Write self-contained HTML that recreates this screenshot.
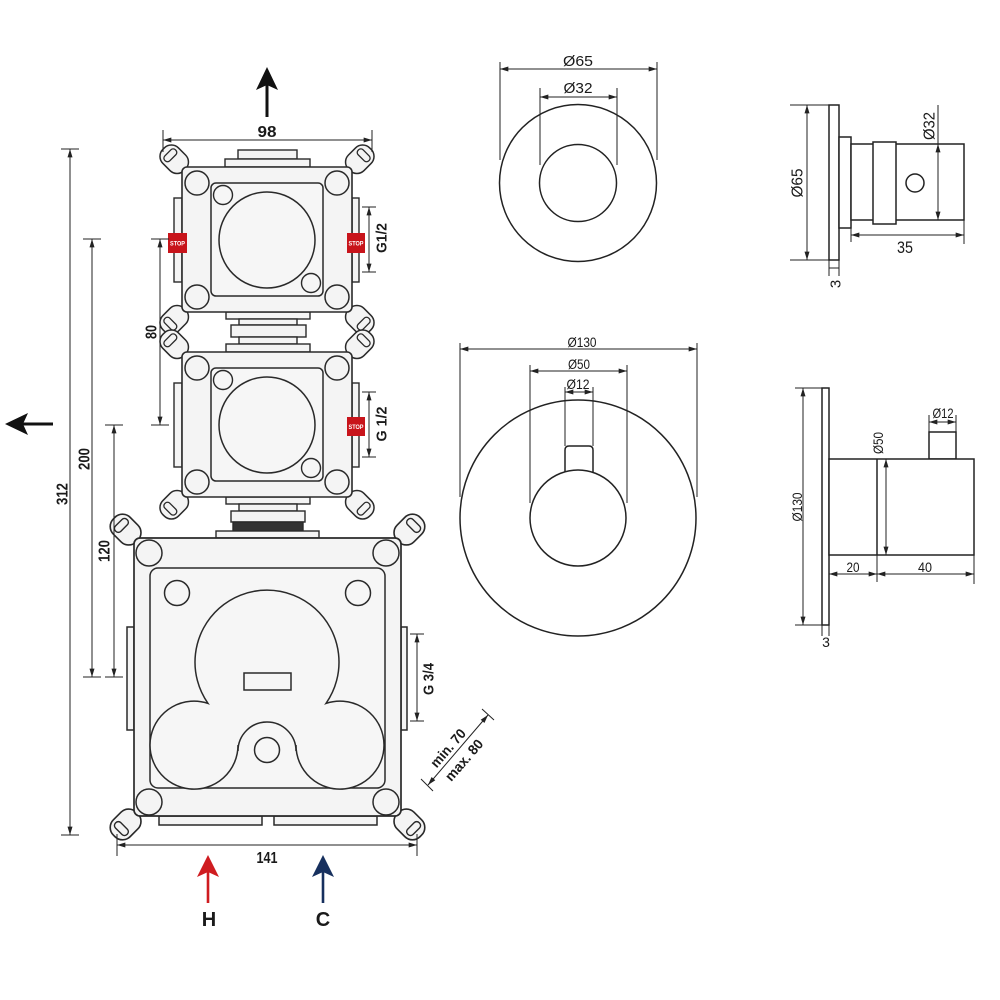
<!DOCTYPE html>
<html>
<head>
<meta charset="utf-8">
<style>
html,body{margin:0;padding:0;background:#fff;}
svg{display:block;}
text{font-family:"Liberation Sans Narrow","Liberation Sans",Arial,sans-serif;fill:#1a1a1a;}
.b{font-weight:bold;}
</style>
</head>
<body>
<svg width="1000" height="1000" viewBox="0 0 1000 1000" xmlns="http://www.w3.org/2000/svg">
<defs>
  <marker id="ar" viewBox="0 0 10 6" refX="10" refY="3" markerWidth="9" markerHeight="5" markerUnits="userSpaceOnUse" orient="auto-start-reverse">
    <path d="M0,0 L10,3 L0,6 z" fill="#222"/>
  </marker>
  <g id="lug">
    <rect x="-11" y="-26" width="22" height="30" rx="10" fill="#f4f4f4" stroke="#2a2a2a" stroke-width="1.5"/>
    <rect x="-7.5" y="-20" width="15" height="7" rx="3.2" fill="#f4f4f4" stroke="#2a2a2a" stroke-width="1.3"/>
  </g>
  <g id="smod">
    <use href="#lug" transform="translate(182,167) rotate(-45)"/>
    <use href="#lug" transform="translate(352,167) rotate(45)"/>
    <use href="#lug" transform="translate(352,312) rotate(135)"/>
    <use href="#lug" transform="translate(182,312) rotate(-135)"/>
    <rect x="174" y="198" width="8" height="84" fill="#f4f4f4" stroke="#2a2a2a" stroke-width="1.4"/>
    <rect x="352" y="198" width="7" height="84" fill="#f4f4f4" stroke="#2a2a2a" stroke-width="1.4"/>
    <rect x="182" y="167" width="170" height="145" rx="5" fill="#f4f4f4" stroke="#2a2a2a" stroke-width="1.6"/>
    <circle cx="197" cy="183" r="12" fill="#f4f4f4" stroke="#2a2a2a" stroke-width="1.5"/>
    <circle cx="337" cy="183" r="12" fill="#f4f4f4" stroke="#2a2a2a" stroke-width="1.5"/>
    <circle cx="197" cy="297" r="12" fill="#f4f4f4" stroke="#2a2a2a" stroke-width="1.5"/>
    <circle cx="337" cy="297" r="12" fill="#f4f4f4" stroke="#2a2a2a" stroke-width="1.5"/>
    <rect x="211" y="183" width="112" height="113" rx="5" fill="#f6f6f6" stroke="#2a2a2a" stroke-width="1.5"/>
    <circle cx="267" cy="240" r="48" fill="#f6f6f6" stroke="#2a2a2a" stroke-width="1.5"/>
    <circle cx="223" cy="195" r="9.5" fill="#f6f6f6" stroke="#2a2a2a" stroke-width="1.4"/>
    <circle cx="311" cy="283" r="9.5" fill="#f6f6f6" stroke="#2a2a2a" stroke-width="1.4"/>
  </g>
</defs>

<!-- ================= LEFT: MODULES ================= -->
<g fill="#f4f4f4" stroke="#2a2a2a" stroke-width="1.4">
  <rect x="238" y="150" width="59" height="9"/>
  <rect x="225" y="159" width="85" height="8"/>
  <rect x="226" y="312" width="84" height="7"/>
  <rect x="239" y="319" width="58" height="6"/>
  <rect x="231" y="325" width="75" height="12"/>
  <rect x="239" y="337" width="58" height="7"/>
  <rect x="226" y="344" width="84" height="8"/>
  <rect x="226" y="497" width="84" height="7"/>
  <rect x="239" y="504" width="58" height="7"/>
  <rect x="231" y="511" width="74" height="11"/>
  <rect x="233" y="522" width="70" height="9" fill="#333"/>
  <rect x="216" y="531" width="103" height="7"/>
</g>

<use href="#smod"/>
<use href="#smod" transform="translate(0,185)"/>

<!-- STOP badges -->
<g>
  <rect x="168" y="233" width="19" height="20" fill="#c8141b"/>
  <rect x="347" y="233" width="18" height="20" fill="#c8141b"/>
  <rect x="347" y="417" width="18" height="19" fill="#c8141b"/>
  <text x="177.5" y="245.5" font-size="6.5" class="b" text-anchor="middle" style="fill:#fff" textLength="15" lengthAdjust="spacingAndGlyphs">STOP</text>
  <text x="356" y="245.5" font-size="6.5" class="b" text-anchor="middle" style="fill:#fff" textLength="15" lengthAdjust="spacingAndGlyphs">STOP</text>
  <text x="356" y="429" font-size="6.5" class="b" text-anchor="middle" style="fill:#fff" textLength="15" lengthAdjust="spacingAndGlyphs">STOP</text>
</g>

<!-- big module -->
<use href="#lug" transform="translate(134,538) rotate(-45) scale(1.08)"/>
<use href="#lug" transform="translate(401,538) rotate(45) scale(1.08)"/>
<use href="#lug" transform="translate(401,816) rotate(135) scale(1.08)"/>
<use href="#lug" transform="translate(134,816) rotate(-135) scale(1.08)"/>
<g fill="#f4f4f4" stroke="#2a2a2a" stroke-width="1.5">
  <rect x="127" y="627" width="7" height="103"/>
  <rect x="401" y="627" width="6" height="103"/>
  <rect x="159" y="816" width="103" height="9"/>
  <rect x="274" y="816" width="103" height="9"/>
  <rect x="134" y="538" width="267" height="278" rx="6" stroke-width="1.7"/>
  <circle cx="149" cy="553" r="13"/>
  <circle cx="386" cy="553" r="13"/>
  <circle cx="149" cy="802" r="13"/>
  <circle cx="386" cy="802" r="13"/>
  <rect x="150" y="568" width="235" height="220" rx="8" fill="#f6f6f6"/>
  <circle cx="177" cy="593" r="12.5" fill="#f6f6f6"/>
  <circle cx="358" cy="593" r="12.5" fill="#f6f6f6"/>
  <path d="M208,703.4 A72,72 0 1 1 326,703.4 A44,44 0 1 1 296,745 L296,751 A29,29 0 0 0 238,751 L238,745 A44,44 0 1 1 208,703.4 Z" fill="#f6f6f6"/>
  <rect x="244" y="673" width="47" height="17" fill="#f6f6f6"/>
  <circle cx="267" cy="750" r="12.5" fill="#f6f6f6"/>
</g>

<!-- ================= LEFT DIMENSIONS ================= -->
<g stroke="#222" stroke-width="1" fill="none">
  <line x1="163" y1="140" x2="372" y2="140" marker-start="url(#ar)" marker-end="url(#ar)"/>
  <line x1="163" y1="130" x2="163" y2="152"/>
  <line x1="372" y1="130" x2="372" y2="152"/>
  <line x1="369" y1="207" x2="369" y2="272" marker-start="url(#ar)" marker-end="url(#ar)"/>
  <line x1="362" y1="207" x2="376" y2="207"/>
  <line x1="362" y1="272" x2="376" y2="272"/>
  <line x1="369" y1="392" x2="369" y2="457" marker-start="url(#ar)" marker-end="url(#ar)"/>
  <line x1="362" y1="392" x2="376" y2="392"/>
  <line x1="362" y1="457" x2="376" y2="457"/>
  <line x1="417" y1="634" x2="417" y2="721" marker-start="url(#ar)" marker-end="url(#ar)"/>
  <line x1="410" y1="634" x2="424" y2="634"/>
  <line x1="410" y1="721" x2="424" y2="721"/>
  <line x1="117" y1="845" x2="417" y2="845" marker-start="url(#ar)" marker-end="url(#ar)"/>
  <line x1="117" y1="834" x2="117" y2="856"/>
  <line x1="417" y1="834" x2="417" y2="856"/>
  <line x1="70" y1="149" x2="70" y2="835" marker-start="url(#ar)" marker-end="url(#ar)"/>
  <line x1="61" y1="149" x2="79" y2="149"/>
  <line x1="61" y1="835" x2="79" y2="835"/>
  <line x1="92" y1="239" x2="92" y2="677" marker-start="url(#ar)" marker-end="url(#ar)"/>
  <line x1="83" y1="239" x2="101" y2="239"/>
  <line x1="83" y1="677" x2="101" y2="677"/>
  <line x1="114" y1="425" x2="114" y2="677" marker-start="url(#ar)" marker-end="url(#ar)"/>
  <line x1="105" y1="425" x2="123" y2="425"/>
  <line x1="105" y1="677" x2="123" y2="677"/>
  <line x1="160" y1="239" x2="160" y2="425" marker-start="url(#ar)" marker-end="url(#ar)"/>
  <line x1="151" y1="239" x2="169" y2="239"/>
  <line x1="151" y1="425" x2="169" y2="425"/>
  <line x1="428" y1="785" x2="488" y2="715" marker-start="url(#ar)" marker-end="url(#ar)"/>
  <line x1="421" y1="779" x2="433" y2="791"/>
  <line x1="482" y1="709" x2="494" y2="720"/>
</g>

<g class="b">
  <text x="267" y="137" font-size="16" text-anchor="middle" textLength="19" lengthAdjust="spacingAndGlyphs">98</text>
  <text x="267" y="863" font-size="16" text-anchor="middle" textLength="21" lengthAdjust="spacingAndGlyphs">141</text>
  <text transform="translate(62,494) rotate(-90)" dy="0.35em" font-size="16" text-anchor="middle" textLength="22" lengthAdjust="spacingAndGlyphs">312</text>
  <text transform="translate(84,459) rotate(-90)" dy="0.35em" font-size="16" text-anchor="middle" textLength="22" lengthAdjust="spacingAndGlyphs">200</text>
  <text transform="translate(104,551) rotate(-90)" dy="0.35em" font-size="16" text-anchor="middle" textLength="22" lengthAdjust="spacingAndGlyphs">120</text>
  <text transform="translate(151,332) rotate(-90)" dy="0.35em" font-size="16" text-anchor="middle" textLength="14" lengthAdjust="spacingAndGlyphs">80</text>
  <text transform="translate(381,238) rotate(-90)" dy="0.35em" font-size="15" text-anchor="middle" textLength="30" lengthAdjust="spacingAndGlyphs">G1/2</text>
  <text transform="translate(381,424) rotate(-90)" dy="0.35em" font-size="15" text-anchor="middle" textLength="35" lengthAdjust="spacingAndGlyphs">G 1/2</text>
  <text transform="translate(428,679) rotate(-90)" dy="0.35em" font-size="15" text-anchor="middle" textLength="32" lengthAdjust="spacingAndGlyphs">G 3/4</text>
  <text transform="translate(448,748) rotate(-49)" dy="0.35em" font-size="14" text-anchor="middle" textLength="46" lengthAdjust="spacingAndGlyphs">min. 70</text>
  <text transform="translate(464,760) rotate(-49)" dy="0.35em" font-size="14" text-anchor="middle" textLength="50" lengthAdjust="spacingAndGlyphs">max. 80</text>
</g>

<!-- flow arrows -->
<line x1="267" y1="117" x2="267" y2="84" stroke="#111" stroke-width="3"/>
<polygon points="267,67 256,90 267,85 278,90" fill="#111"/>
<line x1="53" y1="424" x2="20" y2="424" stroke="#111" stroke-width="3"/>
<polygon points="5,424 28,413 23,424 28,435" fill="#111"/>

<line x1="208" y1="903" x2="208" y2="872" stroke="#cf1c20" stroke-width="2.6"/>
<polygon points="208,855 197,877 208,872 219,877" fill="#cf1c20"/>
<line x1="323" y1="903" x2="323" y2="872" stroke="#17305e" stroke-width="2.6"/>
<polygon points="323,855 312,877 323,872 334,877" fill="#17305e"/>
<text x="209" y="926" font-size="20" class="b" text-anchor="middle">H</text>
<text x="323" y="926" font-size="20" class="b" text-anchor="middle">C</text>

<!-- ================= CENTER CIRCLES ================= -->
<g fill="none" stroke="#222" stroke-width="1.5">
  <circle cx="578" cy="183" r="78.5"/>
  <circle cx="578" cy="183" r="38.5"/>
  <circle cx="578" cy="518" r="118"/>
  <path d="M565,472 L565,450 Q565,446 569,446 L589,446 Q593,446 593,450 L593,472" fill="#fff"/>
  <circle cx="578" cy="518" r="48" fill="#fff"/>
</g>
<g stroke="#222" stroke-width="1" fill="none">
  <line x1="500" y1="69" x2="657" y2="69" marker-start="url(#ar)" marker-end="url(#ar)"/>
  <line x1="500" y1="62" x2="500" y2="160"/>
  <line x1="657" y1="62" x2="657" y2="160"/>
  <line x1="540" y1="97" x2="617" y2="97" marker-start="url(#ar)" marker-end="url(#ar)"/>
  <line x1="540" y1="88" x2="540" y2="165"/>
  <line x1="617" y1="88" x2="617" y2="165"/>
  <line x1="460" y1="349" x2="697" y2="349" marker-start="url(#ar)" marker-end="url(#ar)"/>
  <line x1="460" y1="343" x2="460" y2="497"/>
  <line x1="697" y1="343" x2="697" y2="497"/>
  <line x1="530" y1="371" x2="627" y2="371" marker-start="url(#ar)" marker-end="url(#ar)"/>
  <line x1="530" y1="365" x2="530" y2="503"/>
  <line x1="627" y1="365" x2="627" y2="503"/>
  <line x1="565" y1="392" x2="593" y2="392" marker-start="url(#ar)" marker-end="url(#ar)"/>
  <line x1="565" y1="387" x2="565" y2="446"/>
  <line x1="593" y1="387" x2="593" y2="446"/>
</g>
<text x="578" y="66" font-size="15" text-anchor="middle" textLength="30" lengthAdjust="spacingAndGlyphs">Ø65</text>
<text x="578" y="93" font-size="15" text-anchor="middle" textLength="29" lengthAdjust="spacingAndGlyphs">Ø32</text>
<text x="582" y="347" font-size="14" text-anchor="middle" textLength="29" lengthAdjust="spacingAndGlyphs">Ø130</text>
<text x="579" y="369" font-size="14" text-anchor="middle" textLength="22" lengthAdjust="spacingAndGlyphs">Ø50</text>
<text x="578" y="389" font-size="14" text-anchor="middle" textLength="23" lengthAdjust="spacingAndGlyphs">Ø12</text>

<!-- ================= RIGHT SIDE VIEWS ================= -->
<g fill="#fff" stroke="#222" stroke-width="1.5">
  <rect x="829" y="105" width="10" height="155"/>
  <rect x="839" y="137" width="12" height="91"/>
  <rect x="851" y="144" width="113" height="76"/>
  <rect x="873" y="142" width="23" height="82"/>
  <circle cx="915" cy="183" r="9"/>
  <rect x="822" y="388" width="7" height="237"/>
  <rect x="929" y="432" width="27" height="27"/>
  <rect x="829" y="459" width="145" height="96"/>
  <line x1="877" y1="459" x2="877" y2="555"/>
</g>
<g stroke="#222" stroke-width="1" fill="none">
  <line x1="807" y1="105" x2="807" y2="260" marker-start="url(#ar)" marker-end="url(#ar)"/>
  <line x1="790" y1="105" x2="829" y2="105"/>
  <line x1="790" y1="260" x2="829" y2="260"/>
  <line x1="938" y1="105" x2="938" y2="144"/>
  <line x1="938" y1="144" x2="938" y2="220" marker-start="url(#ar)" marker-end="url(#ar)"/>
  <line x1="851" y1="235" x2="964" y2="235" marker-start="url(#ar)" marker-end="url(#ar)"/>
  <line x1="851" y1="228" x2="851" y2="242"/>
  <line x1="964" y1="220" x2="964" y2="244"/>
  <line x1="829" y1="260" x2="829" y2="276"/>
  <line x1="839" y1="260" x2="839" y2="276"/>
  <line x1="829" y1="268" x2="839" y2="268"/>
  <line x1="803" y1="388" x2="803" y2="625" marker-start="url(#ar)" marker-end="url(#ar)"/>
  <line x1="795" y1="388" x2="822" y2="388"/>
  <line x1="795" y1="625" x2="822" y2="625"/>
  <line x1="886" y1="459" x2="886" y2="555" marker-start="url(#ar)" marker-end="url(#ar)"/>
  <line x1="929" y1="415" x2="929" y2="432"/>
  <line x1="956" y1="415" x2="956" y2="432"/>
  <line x1="929" y1="422" x2="956" y2="422" marker-start="url(#ar)" marker-end="url(#ar)"/>
  <line x1="829" y1="574" x2="877" y2="574" marker-start="url(#ar)" marker-end="url(#ar)"/>
  <line x1="877" y1="574" x2="974" y2="574" marker-start="url(#ar)" marker-end="url(#ar)"/>
  <line x1="877" y1="555" x2="877" y2="582"/>
  <line x1="974" y1="555" x2="974" y2="584"/>
  <line x1="822" y1="625" x2="822" y2="636"/>
  <line x1="829" y1="625" x2="829" y2="636"/>
</g>
<text transform="translate(797,183) rotate(-90)" dy="0.35em" font-size="16" text-anchor="middle" textLength="29" lengthAdjust="spacingAndGlyphs">Ø65</text>
<text transform="translate(929,126) rotate(-90)" dy="0.35em" font-size="16" text-anchor="middle" textLength="28" lengthAdjust="spacingAndGlyphs">Ø32</text>
<text x="905" y="253" font-size="17" text-anchor="middle" textLength="16" lengthAdjust="spacingAndGlyphs">35</text>
<text transform="translate(835,284) rotate(-90)" dy="0.35em" font-size="15" text-anchor="middle">3</text>
<text transform="translate(797,507) rotate(-90)" dy="0.35em" font-size="14" text-anchor="middle" textLength="29" lengthAdjust="spacingAndGlyphs">Ø130</text>
<text transform="translate(878,443) rotate(-90)" dy="0.35em" font-size="14" text-anchor="middle" textLength="22" lengthAdjust="spacingAndGlyphs">Ø50</text>
<text x="943" y="418" font-size="14" text-anchor="middle" textLength="21" lengthAdjust="spacingAndGlyphs">Ø12</text>
<text x="853" y="572" font-size="14" text-anchor="middle" textLength="13" lengthAdjust="spacingAndGlyphs">20</text>
<text x="925" y="572" font-size="14" text-anchor="middle" textLength="14" lengthAdjust="spacingAndGlyphs">40</text>
<text x="826" y="647" font-size="14" text-anchor="middle">3</text>
</svg>
</body>
</html>
